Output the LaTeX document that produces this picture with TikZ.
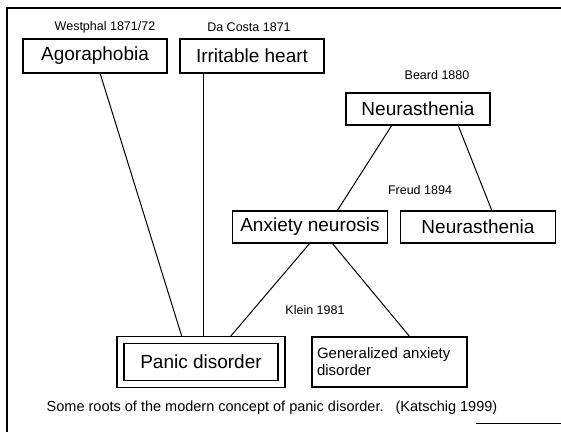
\documentclass[tikz,border=0pt]{standalone}
\usepackage{fontspec}
\setmainfont{Liberation Sans}
\begin{document}
\begin{tikzpicture}[x=1pt,y=-1pt,
  box/.style={draw,line width=1.2pt,inner sep=0pt,font=\fontsize{19}{21}\selectfont},
  yearlbl/.style={inner sep=0pt,font=\fontsize{12.5}{14}\selectfont},
  link/.style={line width=1pt}]
\useasboundingbox (0,0) rectangle (561,432);
% partial outer frame
\draw[line width=2pt] (561,8) -- (7,8) -- (7,432);
\draw[line width=1pt] (476,423) -- (561,423);
% labels
\node[yearlbl] (w) at (105,27) {Westphal 1871/72};
\node[yearlbl] (dc) at (249,27) {Da Costa 1871};
\node[yearlbl] (be) at (437,75) {Beard 1880};
\node[yearlbl] (fr) at (420,190) {Freud 1894};
\node[yearlbl] (kl) at (315,310) {Klein 1981};
% boxes
\node[box,minimum width=144pt,minimum height=34pt] (ago) at (95,56) {Agoraphobia};
\node[box,minimum width=144pt,minimum height=34pt] (irr) at (252,56) {Irritable heart};
\node[box,minimum width=144pt,minimum height=32pt] (neu) at (418,109) {Neurasthenia};
\node[box,minimum width=155pt,minimum height=32pt] (anx) at (310,227) {Anxiety neurosis};
\node[box,minimum width=155pt,minimum height=32pt] (neu2) at (478,227) {Neurasthenia};
\node[box,minimum width=168pt,minimum height=51pt] (pdo) at (201,362) {};
\node[box,minimum width=154pt,minimum height=37pt] (pd) at (201,362) {Panic disorder};
\node[box,minimum width=155pt,minimum height=50pt,align=left,text width=145pt,
      font=\fontsize{15}{17}\selectfont] (gad) at (389.5,362) {Generalized anxiety\\disorder};
% caption
\node[inner sep=0pt,font=\fontsize{14.5}{16}\selectfont] (cap) at (272,408)
  {Some roots of the modern concept of panic disorder.\ \ \ (Katschig 1999)};
% connectors
\coordinate (a1) at (100,73);
\coordinate (a2) at (182,337);
\coordinate (i1) at (203,73);
\coordinate (i2) at (203,337);
\coordinate (n1) at (392,125);
\coordinate (n2) at (337,211);
\coordinate (n3) at (458,125);
\coordinate (n4) at (492,211);
\coordinate (x1) at (310,243);
\coordinate (x2) at (230,337);
\coordinate (x3) at (332,243);
\coordinate (x4) at (410,337);
\draw[link] (a1) -- (a2);
\draw[link] (i1) -- (i2);
\draw[link] (n1) -- (n2);
\draw[link] (n3) -- (n4);
\draw[link] (x1) -- (x2);
\draw[link] (x3) -- (x4);
\end{tikzpicture}
\end{document}
